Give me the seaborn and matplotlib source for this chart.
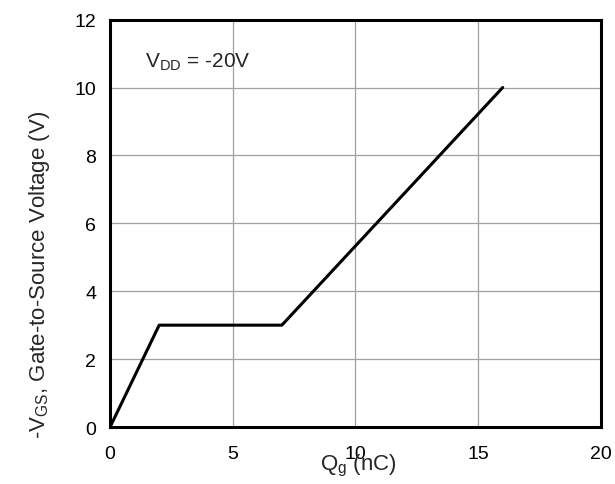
import numpy as np
import pandas as pd
import matplotlib
matplotlib.use("Agg")
import matplotlib.pyplot as plt
import seaborn as sns

# gate charge curve
qg = [0, 2, 7, 16]
vgs = [0, 3, 3, 10]

df = pd.DataFrame({"Qg": qg, "Vgs": vgs})

sns.set_style("white")
plt.rcParams['font.family'] = ['Liberation Sans', 'DejaVu Sans']

fig = plt.figure(figsize=(6.15, 4.85), dpi=100)
ax = fig.add_axes([0.179, 0.1175, 0.798, 0.84])

sns.lineplot(data=df, x="Qg", y="Vgs", color="black", linewidth=2.2, ax=ax, sort=False)

ax.set_xlim(0, 20)
ax.set_ylim(0, 12)
ax.set_xticks([0, 5, 10, 15, 20])
ax.set_yticks([0, 2, 4, 6, 8, 10, 12])
ax.grid(True, color="#a0a0a0", linewidth=0.9)
ax.tick_params(length=0, labelsize=14, colors="black")
ax.tick_params(axis="x", pad=13)
ax.tick_params(axis="y", pad=10)
for s in ax.spines.values():
    s.set_color("black")
    s.set_linewidth(2.2)

ax.set_xlabel(r"Q$_\mathregular{g}$ (nC)", fontsize=16)
ax.set_ylabel(r"-V$_\mathregular{GS}$, Gate-to-Source Voltage (V)", fontsize=16)
ax.xaxis.set_label_coords(0.505, -0.061)
ax.yaxis.set_label_coords(-0.143, 0.376)
ax.yaxis.label.set_verticalalignment("center")

ax.text(0.071, 0.885, r"V$_\mathregular{DD}$ = -20V", transform=ax.transAxes, fontsize=15)

fig.savefig("out.png", dpi=100)
